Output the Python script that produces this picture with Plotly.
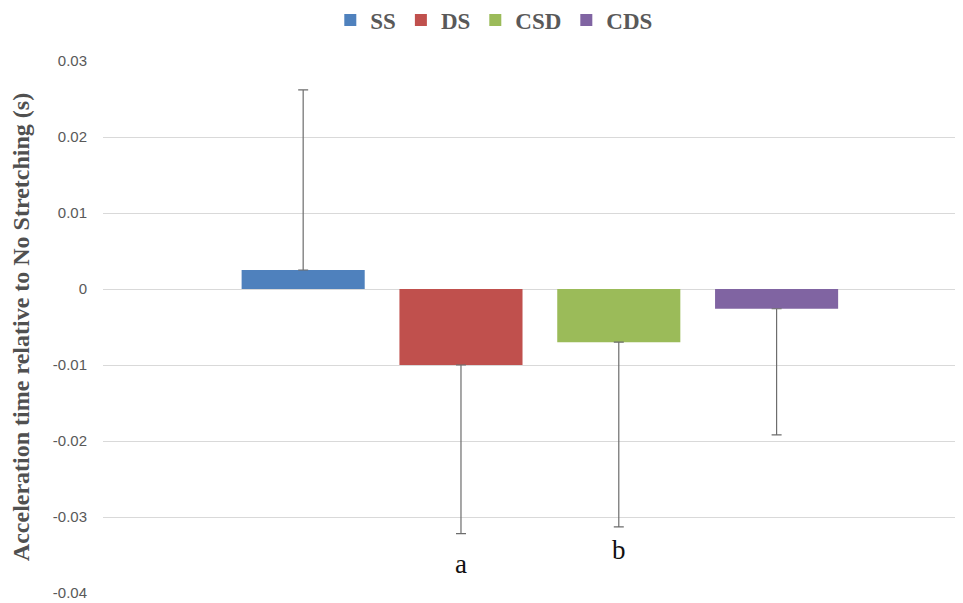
import plotly.graph_objects as go

series = ["SS", "DS", "CSD", "CDS"]
values = [0.0025, -0.0100, -0.0070, -0.0026]
err_plus = [0.0237, 0.0, 0.0, 0.0]
err_minus = [0.0, 0.0222, 0.0243, 0.0166]
colors = ["#4f81bd", "#c0504d", "#9bbb59", "#8064a2"]
sig_labels = {"DS": ("a", -0.0362), "CSD": ("b", -0.0344)}
y_ticks = [0.03, 0.02, 0.01, 0, -0.01, -0.02, -0.03, -0.04]

bargap = 0.266
fig = go.Figure()
for s, v, ep, em, c in zip(series, values, err_plus, err_minus, colors):
    fig.add_trace(go.Bar(
        x=[""], y=[v], name=s, marker=dict(color=c, line=dict(width=0)),
        error_y=dict(type="data", symmetric=False, array=[ep], arrayminus=[em],
                     color="#6d6d6d", thickness=1.2, width=5),
    ))

slot = (1 - bargap) / len(series)
for i, s in enumerate(series):
    if s in sig_labels:
        txt, yy = sig_labels[s]
        xc = -(1 - bargap) / 2 + (i + 0.5) * slot
        fig.add_annotation(x=xc, y=yy, xref="x", yref="y", text=txt, showarrow=False,
                           font=dict(family="Liberation Serif", size=27, color="#111111"))

fig.update_layout(
    width=963, height=603,
    margin=dict(l=95, r=8, t=53, b=18, autoexpand=False),
    paper_bgcolor="white", plot_bgcolor="white",
    barmode="group", bargap=bargap, bargroupgap=0.22,
    showlegend=True,
    legend=dict(orientation="h", x=0.455, xanchor="center", y=0.980, yref="container",
                yanchor="middle", font=dict(family="Liberation Serif", size=23, color="#595959",
                                            weight="bold"),
                itemwidth=30, traceorder="normal"),
    xaxis=dict(range=[-0.508, 0.492], showticklabels=False, showgrid=False,
               zeroline=False, showline=False),
    yaxis=dict(range=[-0.04, 0.03], tickvals=y_ticks,
               ticktext=[("%g" % t) for t in y_ticks],
               showgrid=True, gridcolor="#d9d9d9", gridwidth=1,
               zeroline=False, showline=False,
               ticks="", ticklabelstandoff=15,
               tickfont=dict(family="Liberation Sans", size=15, color="#595959"),
               title=dict(text="Acceleration time relative to No Stretching (s)",
                          font=dict(family="Liberation Serif", size=24, color="#505050",
                                    weight="bold"),
                          standoff=18)),
)
fig.write_html("out.html")
